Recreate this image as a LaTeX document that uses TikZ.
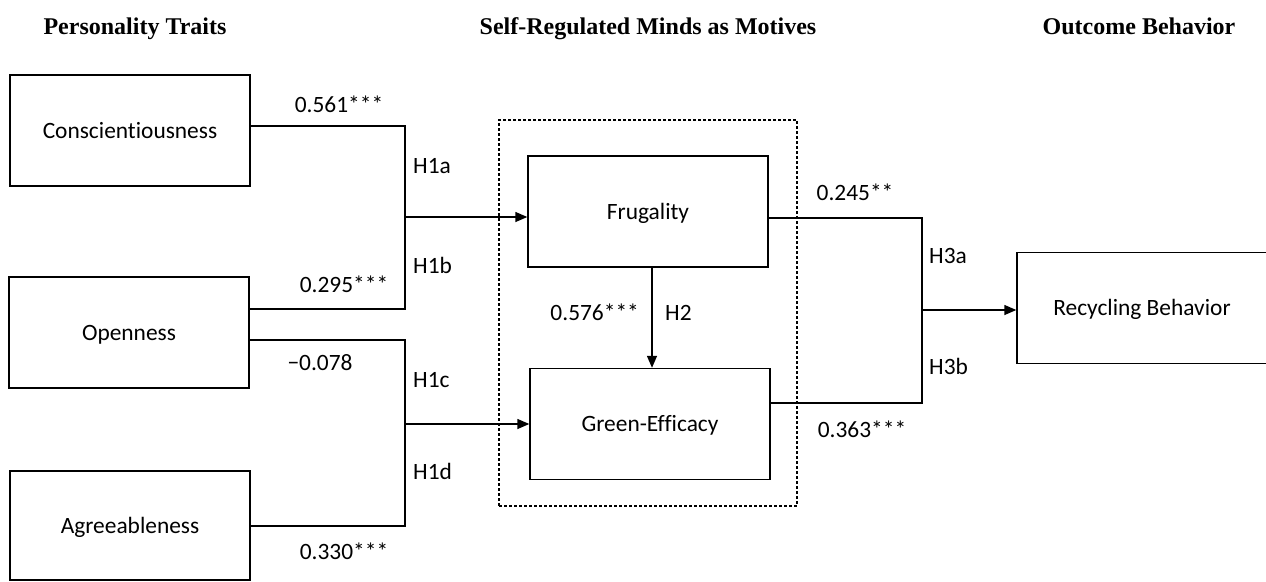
\documentclass[tikz,border=0pt]{standalone}
\usepackage{fontspec}
\setmainfont{Carlito}[Ligatures={NoCommon}]
\newfontfamily\titlefont{Liberation Serif}
\usetikzlibrary{arrows.meta}
\begin{document}
\begin{tikzpicture}[x=1pt,y=-1pt,
  txt/.style={inner sep=0pt,text height=15pt,text depth=0pt,font=\fontsize{23.4}{28}\selectfont},
  box/.style={txt,draw,line width=1.4pt,minimum width=240pt,minimum height=111pt},
  lbl/.style={txt},
  ttl/.style={inner sep=0pt,anchor=base,font=\titlefont\bfseries\fontsize{24}{28}\selectfont},
  ln/.style={line width=1.4pt},
  arr/.style={line width=1.4pt,-{Triangle[length=12pt,width=10pt]}},
  grp/.style={draw,line width=1.2pt,dash pattern=on 3pt off 2pt}]
\useasboundingbox (0,0) rectangle (1266,581);
% titles
\node[ttl] (t1) at (135,34) {Personality Traits};
\node[ttl] (t2) at (648,34) {Self-Regulated Minds as Motives};
\node[ttl] (t3) at (1139,34) {Outcome Behavior};
% group box
\node[grp,minimum width=298pt,minimum height=386pt,inner sep=0pt] (grp) at (648,313) {};
% boxes
\node[box] (consc) at (130,130.5) {Conscientiousness};
\node[box] (open) at (129,332.5) {Openness};
\node[box,minimum height=109pt] (agree) at (130,525.5) {Agreeableness};
\node[box] (frug) at (648,211.5) {Frugality};
\node[box] (green) at (650,424) {Green-Efficacy};
\node[box,minimum width=250pt] (recyc) at (1142,308) {Recycling Behavior};
% junctions
\coordinate (ja) at (405,126);
\coordinate (jb) at (405,309);
\coordinate (jab) at (405,217);
\coordinate (jc) at (405,340);
\coordinate (jd) at (405,526);
\coordinate (jcd) at (405,424);
\coordinate (ka) at (922,218);
\coordinate (kb) at (922,403);
\coordinate (kab) at (922,310);
% connectors
\draw[ln] (consc.east |- ja) -- (ja) -- (jb) -- (open.east |- jb);
\draw[arr] (jab) -- (frug.west |- jab);
\draw[ln] (open.east |- jc) -- (jc) -- (jd) -- (agree.east |- jd);
\draw[arr] (jcd) -- (green.west |- jcd);
\draw[arr] (frug.south -| 652,0) -- (green.north -| 652,0);
\draw[ln] (frug.east |- ka) -- (ka) -- (kb) -- (green.east |- kb);
\draw[arr] (kab) -- (recyc.west |- kab);
% labels
\node[lbl] (l1) at (339,104.5) {0.561***};
\node[lbl] (l2) at (344,285) {0.295***};
\node[lbl] (l3) at (320,363) {−0.078};
\node[lbl] (l4) at (344,552) {0.330***};
\node[lbl,anchor=west] (h1a) at (413,166) {H1a};
\node[lbl,anchor=west] (h1b) at (413,266) {H1b};
\node[lbl,anchor=west] (h1c) at (413,380) {H1c};
\node[lbl,anchor=west] (h1d) at (413,472) {H1d};
\node[lbl,anchor=east] (l5) at (639,313) {0.576***};
\node[lbl,anchor=west] (h2) at (665,313) {H2};
\node[lbl] (l6) at (855,193) {0.245**};
\node[lbl] (l7) at (862,430) {0.363***};
\node[lbl,anchor=west] (h3a) at (929,256) {H3a};
\node[lbl,anchor=west] (h3b) at (929,367) {H3b};
\end{tikzpicture}
\end{document}
